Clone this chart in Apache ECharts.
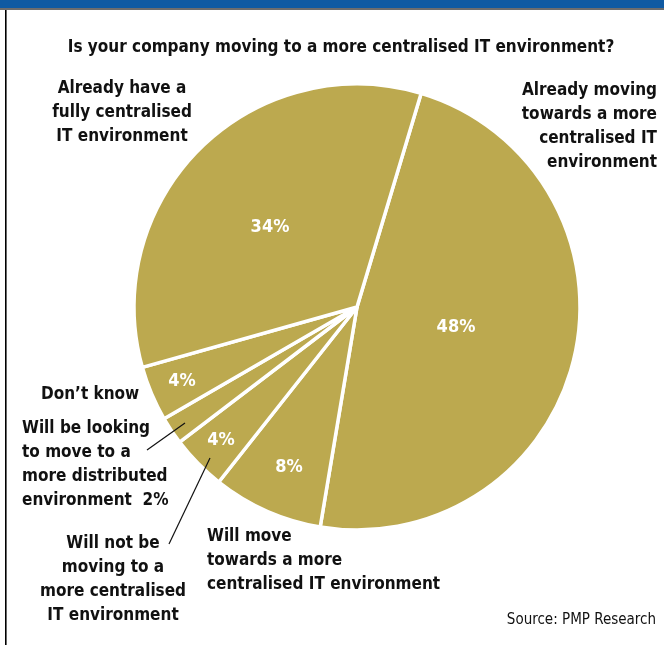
<!DOCTYPE html>
<html>
<head>
<meta charset="utf-8">
<script src="https://cdn.jsdelivr.net/npm/echarts@6/dist/echarts.min.js"></script>
<style>
html,body{margin:0;padding:0;background:#fff;}
#chart{width:664px;height:645px;}
</style>
</head>
<body>
<div id="chart"></div>
<script>
const titleText = 'Is your company moving to a more centralised IT environment?';
const categories = [
  'Already moving towards a more centralised IT environment',
  'Will move towards a more centralised IT environment',
  'Will not be moving to a more centralised IT environment',
  'Will be looking to move to a more distributed environment',
  "Don\u2019t know",
  'Already have a fully centralised IT environment'
];
const values = [48, 8, 4, 2, 4, 34];
const outsideLabels = [
  'Already moving\ntowards a more\ncentralised IT\nenvironment',
  'Will move\ntowards a more\ncentralised IT environment',
  'Will not be\nmoving to a\nmore centralised\nIT environment',
  'Will be looking\nto move to a\nmore distributed\nenvironment  2%',
  "Don\u2019t know",
  'Already have a\nfully centralised\nIT environment'
];
const sourceText = 'Source: PMP Research';

const FONT = "'Liberation Sans Narrow','DejaVu Sans Condensed','Arial Narrow',sans-serif";
const GOLD = '#bca94f';

// label placement (text positions only)
const insidePos = [
  [456, 327], [289, 467], [221, 440], null, [182, 381], [270, 227]
];
const outsidePos = [
  {x: 657, y: 127, align: 'right'},
  {x: 207, y: 561, align: 'left'},
  {x: 113, y: 580, align: 'center'},
  {x: 22, y: 465, align: 'left'},
  {x: 41, y: 395, align: 'left'},
  {x: 122, y: 113, align: 'center'}
];
const leaderLines = {
  2: [[210, 458], [169, 544]],
  3: [[185, 423], [147, 450]]
};

const pieData = categories.map((c, i) => ({ name: c, value: values[i] }));

const chart = echarts.init(document.getElementById('chart'), null, { renderer: 'canvas' });
chart.setOption({
  backgroundColor: '#ffffff',
  animation: false,
  title: {
    text: titleText,
    left: 336, top: 34, textAlign: 'center',
    textStyle: { fontFamily: FONT, fontWeight: 'bold', fontSize: 17, color: '#111' }
  },
  graphic: [
    { type: 'rect', shape: { x: 0, y: 0, width: 664, height: 8 }, style: { fill: '#0f5aa2' } },
    { type: 'rect', shape: { x: 0, y: 8, width: 664, height: 2 }, style: { fill: '#6d6d6d' } },
    { type: 'rect', shape: { x: 5, y: 10, width: 1.6, height: 640 }, style: { fill: '#000' } },
    { type: 'text', right: 8, top: 613,
      style: { text: sourceText, fontFamily: FONT, fontSize: 15, fill: '#111' } }
  ],
  series: [
    {
      type: 'pie',
      z: 2,
      center: [357, 307],
      radius: [0, 223],
      startAngle: 73.3,
      clockwise: true,
      avoidLabelOverlap: false,
      itemStyle: { color: GOLD, borderColor: '#ffffff', borderWidth: 3.5 },
      emphasis: { disabled: true },
      label: {
        show: true, position: 'inside',
        formatter: p => (p.value === 2 ? '' : p.value + '%'),
        fontFamily: FONT, fontWeight: 'bold', fontSize: 18, color: '#ffffff'
      },
      labelLine: { show: false },
      labelLayout: p => {
        const pos = insidePos[p.dataIndex];
        if (!pos) return {};
        return { x: pos[0], y: pos[1], align: 'center', verticalAlign: 'middle' };
      },
      data: pieData
    },
    {
      type: 'pie',
      z: 6,
      silent: true,
      center: [357, 307],
      radius: [0, 223],
      startAngle: 73.3,
      clockwise: true,
      avoidLabelOverlap: false,
      itemStyle: { color: 'rgba(0,0,0,0)', borderWidth: 0 },
      label: {
        show: true, position: 'outside',
        formatter: p => outsideLabels[p.dataIndex],
        fontFamily: FONT, fontWeight: 'bold', fontSize: 17, lineHeight: 24, color: '#111'
      },
      labelLine: { show: true, lineStyle: { color: '#111', width: 1.2 }, length: 5, length2: 5 },
      labelLayout: p => {
        const o = outsidePos[p.dataIndex];
        const res = { x: o.x, y: o.y, align: o.align, verticalAlign: 'middle' };
        const ll = leaderLines[p.dataIndex];
        res.labelLinePoints = ll ? [ll[0], ll[1], ll[1]] : [[0,0],[0,0],[0,0]];
        return res;
      },
      data: pieData.map((d, i) => ({
        name: d.name, value: d.value,
        labelLine: { show: !!leaderLines[i] }
      }))
    }
  ]
});
</script>
</body>
</html>
